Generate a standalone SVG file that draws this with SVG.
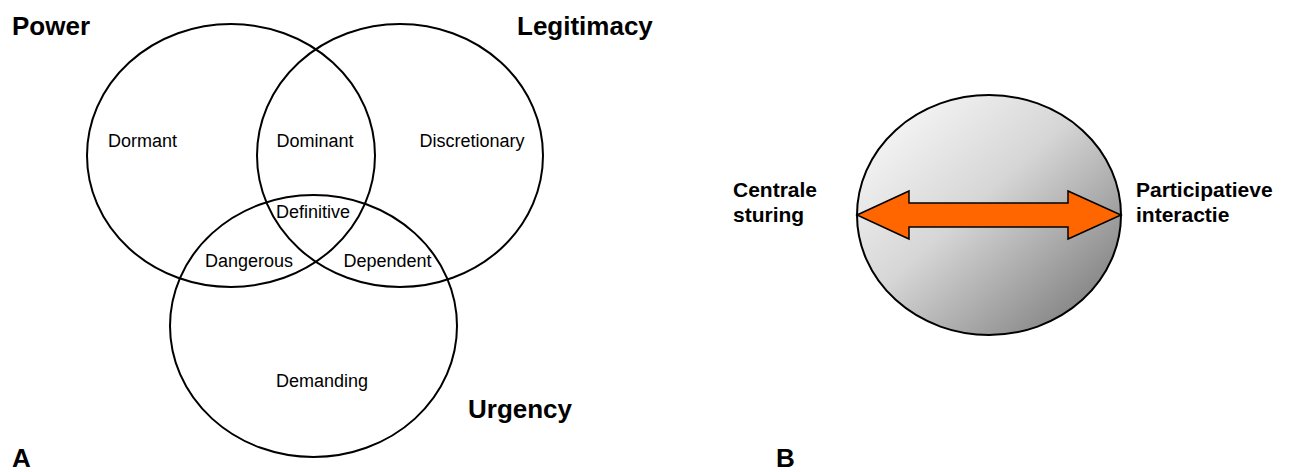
<svg xmlns="http://www.w3.org/2000/svg" width="1293" height="472" viewBox="0 0 1293 472">
  <style>
    .ring { fill: none; stroke: #000; stroke-width: 2; }
    .lbl { font-family: "Liberation Sans", Arial, sans-serif; font-size: 18px; fill: #000; text-anchor: middle; }
    .ttl { font-family: "Liberation Sans", Arial, sans-serif; font-size: 26px; font-weight: bold; fill: #000; }
    .pole { font-family: "Liberation Sans", Arial, sans-serif; font-size: 21px; font-weight: bold; fill: #000; }
  </style>
  <defs>
    <linearGradient id="sphereShade" x1="0" y1="0" x2="1" y2="1">
      <stop offset="0" stop-color="#ffffff"/>
      <stop offset="0.45" stop-color="#d6d6d6"/>
      <stop offset="1" stop-color="#6e6e6e"/>
    </linearGradient>
  </defs>
  <rect width="1293" height="472" fill="#fff"/>

  <!-- Panel A: stakeholder salience Venn diagram -->
  <g id="power">
    <ellipse class="ring" cx="231" cy="155.5" rx="144" ry="131.5"/>
    <text class="ttl" x="12" y="35">Power</text>
  </g>
  <g id="legitimacy">
    <ellipse class="ring" cx="400" cy="155.5" rx="143" ry="131.5"/>
    <text class="ttl" x="517" y="35">Legitimacy</text>
  </g>
  <g id="urgency">
    <ellipse class="ring" cx="313.5" cy="326" rx="143.5" ry="131"/>
    <text class="ttl" x="468" y="418">Urgency</text>
  </g>
  <g id="regions">
    <text class="lbl" x="142.5" y="147">Dormant</text>
    <text class="lbl" x="315" y="147">Dominant</text>
    <text class="lbl" x="472" y="147">Discretionary</text>
    <text class="lbl" x="313" y="218">Definitive</text>
    <text class="lbl" x="249" y="267">Dangerous</text>
    <text class="lbl" x="387.5" y="267">Dependent</text>
    <text class="lbl" x="322" y="387">Demanding</text>
  </g>
  <text class="ttl" x="12" y="467">A</text>

  <!-- Panel B: steering spectrum sphere -->
  <g id="sphere">
    <ellipse cx="989" cy="215" rx="132" ry="120" fill="url(#sphereShade)" stroke="#000" stroke-width="2"/>
  </g>
  <g id="connectors">
    <polygon points="857,215 909,191 909,203 1068,203 1068,191 1121,215 1068,239 1068,227 909,227 909,239"
             fill="#ff6600" stroke="#000" stroke-width="1.5" stroke-linejoin="miter"/>
  </g>
  <g id="centrale">
    <text class="pole" x="733" y="197">Centrale</text>
    <text class="pole" x="733" y="222">sturing</text>
  </g>
  <g id="participatief">
    <text class="pole" x="1136" y="197">Participatieve</text>
    <text class="pole" x="1136" y="222">interactie</text>
  </g>
  <text class="ttl" x="776" y="467">B</text>
</svg>
